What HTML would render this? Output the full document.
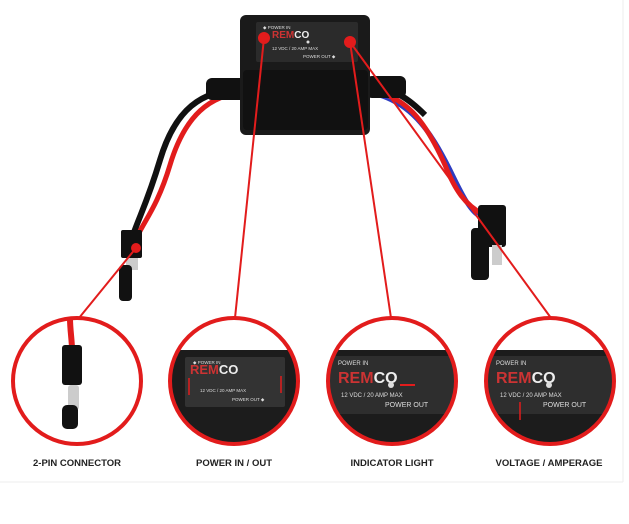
<!DOCTYPE html>
<html><head><style>
html,body{margin:0;padding:0;background:#fff;}
svg{display:block;font-family:"Liberation Sans",sans-serif;}
</style></head><body>
<svg width="629" height="524" viewBox="0 0 629 524" xmlns="http://www.w3.org/2000/svg">
<defs>
<clipPath id="c2"><ellipse cx="234" cy="381" rx="64" ry="63"/></clipPath>
<clipPath id="c3"><ellipse cx="392" cy="381" rx="64" ry="63"/></clipPath>
<clipPath id="c4"><ellipse cx="550" cy="381" rx="64" ry="63"/></clipPath>
</defs>
<rect width="629" height="524" fill="#fff"/>
<line x1="0" y1="482" x2="623" y2="482" stroke="#eee"/>
<line x1="623" y1="0" x2="623" y2="482" stroke="#eee"/>
<!-- cables left -->
<path d="M245 88 C200 90 175 110 160 160 C148 200 140 215 133 235" stroke="#111" stroke-width="6" fill="none"/>
<path d="M245 92 C210 95 185 115 170 165 C158 205 145 220 138 235" stroke="#e21c1c" stroke-width="5" fill="none"/>
<rect x="206" y="78" width="40" height="22" rx="6" fill="#111"/>
<rect x="121" y="230" width="21" height="28" rx="2" fill="#111"/>
<rect x="126" y="258" width="12" height="12" fill="#ccc"/>
<rect x="119" y="265" width="13" height="36" rx="4" fill="#111"/>
<!-- cables right -->
<path d="M368 92 C410 100 430 130 450 170 C462 195 470 210 478 215" stroke="#2d3cc0" stroke-width="5" fill="none"/>
<path d="M368 90 C405 95 425 120 445 165 C455 190 465 205 484 215" stroke="#e21c1c" stroke-width="5" fill="none"/>
<path d="M368 86 C395 88 410 100 425 115" stroke="#111" stroke-width="6" fill="none"/>
<rect x="366" y="76" width="40" height="22" rx="6" fill="#111"/>
<rect x="478" y="205" width="28" height="42" rx="3" fill="#111"/>
<rect x="492" y="245" width="10" height="20" fill="#ccc"/>
<rect x="471" y="228" width="18" height="52" rx="4" fill="#111"/>
<!-- device -->
<rect x="240" y="15" width="130" height="120" rx="6" fill="#1a1a1a"/>
<rect x="243" y="70" width="125" height="60" rx="4" fill="#111"/>
<rect x="256" y="22" width="102" height="40" rx="2" fill="#2b2b2b"/>
<text x="263" y="29" font-size="4.5" fill="#ddd">◆ POWER IN</text>
<text x="272" y="38" font-size="10" font-weight="bold" fill="#c33">REM<tspan fill="#eee">CO</tspan></text>
<circle cx="308" cy="42" r="1.5" fill="#ddd"/>
<text x="272" y="50" font-size="4.5" fill="#ddd">12 VDC / 20 AMP MAX</text>
<text x="303" y="58" font-size="4.5" fill="#ddd">POWER OUT ◆</text>
<!-- red leader lines -->
<g stroke="#e21c1c" stroke-width="2" fill="#e21c1c">
<line x1="264" y1="38" x2="235" y2="318"/>
<line x1="350" y1="42" x2="391" y2="318"/>
<line x1="350" y1="42" x2="551" y2="318"/>
<line x1="136" y1="248" x2="79" y2="318"/>
<circle cx="264" cy="38" r="5"/>
<circle cx="350" cy="42" r="5"/>
<circle cx="136" cy="248" r="4"/>
</g>
<!-- circle 1 -->
<ellipse cx="77" cy="381" rx="64" ry="63" fill="#fff"/>
<path d="M70 318 C70 330 72 340 72 350" stroke="#e21c1c" stroke-width="6" fill="none"/>
<rect x="62" y="345" width="20" height="40" rx="3" fill="#111"/>
<rect x="68" y="385" width="11" height="25" rx="3" fill="#ccc"/>
<rect x="62" y="405" width="16" height="24" rx="5" fill="#111"/>
<!-- circle 2 -->
<g clip-path="url(#c2)">
<rect x="160" y="310" width="150" height="140" fill="#fff"/>
<rect x="160" y="350" width="150" height="100" fill="#1c1c1c"/>
<rect x="185" y="357" width="100" height="50" rx="2" fill="#333"/>
<text x="190" y="374" font-size="13" font-weight="bold" fill="#c33">REM<tspan fill="#eee">CO</tspan></text>
<text x="193" y="364" font-size="4.5" fill="#ddd">◆ POWER IN</text>
<text x="200" y="392" font-size="4.5" fill="#ddd">12 VDC / 20 AMP MAX</text>
<text x="232" y="401" font-size="4.5" fill="#ddd">POWER OUT ◆</text>
<line x1="189" y1="395" x2="189" y2="378" stroke="#e21c1c" stroke-width="1.5"/>
<line x1="281" y1="376" x2="281" y2="393" stroke="#e21c1c" stroke-width="1.5"/>
</g>
<!-- circle 3 -->
<g clip-path="url(#c3)">
<rect x="320" y="310" width="150" height="140" fill="#fff"/>
<rect x="320" y="350" width="150" height="100" fill="#1c1c1c"/>
<rect x="320" y="356" width="150" height="58" fill="#2e2e2e"/>
<text x="338" y="365" font-size="6" fill="#ddd">POWER IN</text>
<text x="338" y="383" font-size="16" font-weight="bold" fill="#c33">REM<tspan fill="#eee">CO</tspan></text>
<circle cx="391" cy="385" r="3" fill="#ddd"/>
<line x1="400" y1="385" x2="415" y2="385" stroke="#e21c1c" stroke-width="2"/>
<text x="341" y="397" font-size="6" fill="#ddd">12 VDC / 20 AMP MAX</text>
<text x="385" y="407" font-size="7" fill="#ddd">POWER OUT</text>
</g>
<!-- circle 4 -->
<g clip-path="url(#c4)">
<rect x="480" y="310" width="150" height="140" fill="#fff"/>
<rect x="480" y="350" width="150" height="100" fill="#1c1c1c"/>
<rect x="480" y="356" width="150" height="58" fill="#2e2e2e"/>
<text x="496" y="365" font-size="6" fill="#ddd">POWER IN</text>
<text x="496" y="383" font-size="16" font-weight="bold" fill="#c33">REM<tspan fill="#eee">CO</tspan></text>
<circle cx="549" cy="385" r="3" fill="#ddd"/>
<text x="500" y="397" font-size="6" fill="#ddd">12 VDC / 20 AMP MAX</text>
<text x="543" y="407" font-size="7" fill="#ddd">POWER OUT</text>
<line x1="520" y1="420" x2="520" y2="402" stroke="#e21c1c" stroke-width="1.5"/>
</g>
<g fill="none" stroke="#e21c1c" stroke-width="4">
<ellipse cx="77" cy="381" rx="64" ry="63"/>
<ellipse cx="234" cy="381" rx="64" ry="63"/>
<ellipse cx="392" cy="381" rx="64" ry="63"/>
<ellipse cx="550" cy="381" rx="64" ry="63"/>
</g>
<g font-size="9.5" font-weight="bold" fill="#222" text-anchor="middle">
<text x="77" y="466">2-PIN CONNECTOR</text>
<text x="234" y="466">POWER IN / OUT</text>
<text x="392" y="466">INDICATOR LIGHT</text>
<text x="549" y="466">VOLTAGE / AMPERAGE</text>
</g>
</svg>
</body></html>
